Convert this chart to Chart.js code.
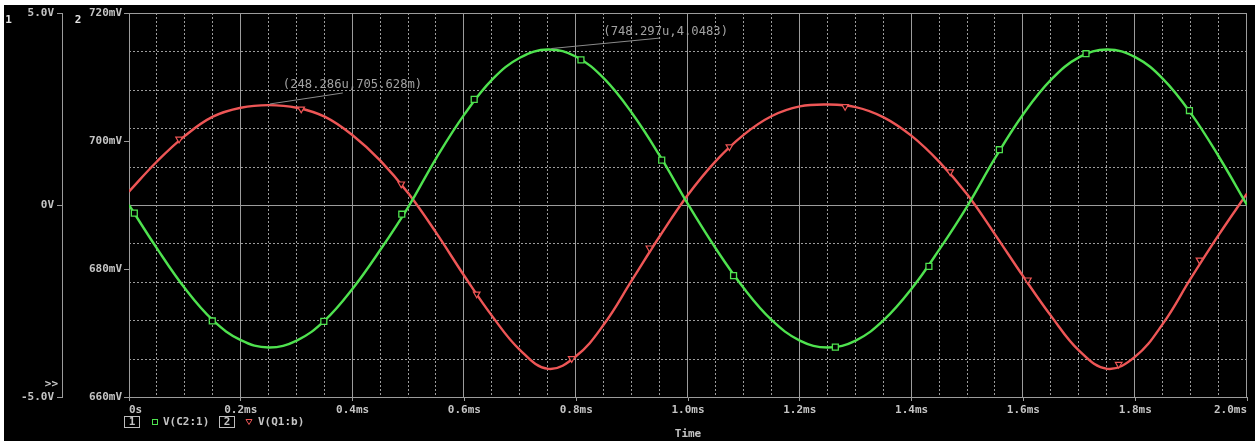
<!DOCTYPE html>
<html>
<head>
<meta charset="utf-8">
<script src="https://cdn.jsdelivr.net/npm/chart.js@4.4.1/dist/chart.umd.min.js"></script>
<style>
    html, body { margin: 0; padding: 0; background: #fff; }
    #wrap { position: absolute; left: 4px; top: 5px; width: 1251px; height: 436px; background: #000; }
    canvas { display: block; }
</style>
</head>
<body>
<div id="wrap"><canvas id="scope" width="1251" height="436"></canvas></div>
<script>
// time base, ms
const timeMs = [
    0.00, 0.05, 0.10, 0.15, 0.20, 0.25, 0.30, 0.35, 0.40, 0.45,
    0.50, 0.55, 0.60, 0.65, 0.70, 0.75, 0.80, 0.85, 0.90, 0.95,
    1.00, 1.05, 1.10, 1.15, 1.20, 1.25, 1.30, 1.35, 1.40, 1.45,
    1.50, 1.55, 1.60, 1.65, 1.70, 1.75, 1.80, 1.85, 1.90, 1.95, 2.00
];

// V(C2:1), volts (axis 1)
const c2Volts = [
    0.00, -1.13, -2.17, -3.00, -3.52, -3.71, -3.53, -3.01, -2.18, -1.16,
    -0.04, 1.23, 2.36, 3.27, 3.84, 4.05, 3.86, 3.29, 2.39, 1.27,
    0.02, -1.14, -2.17, -3.00, -3.53, -3.71, -3.53, -3.00, -2.18, -1.15,
    -0.02, 1.24, 2.37, 3.27, 3.85, 4.05, 3.85, 3.28, 2.38, 1.25, 0.00
];

// V(Q1:b), millivolts (axis 2)
const q1bMillivolts = [
    692.1, 696.8, 700.8, 703.8, 705.2, 705.6, 705.2, 703.8, 700.9, 696.9,
    691.8, 685.6, 678.9, 672.6, 667.3, 664.4, 666.4, 671.4, 678.3, 685.2,
    691.6, 696.9, 701.0, 703.9, 705.4, 705.7, 705.3, 703.7, 700.8, 696.7,
    691.6, 685.3, 678.8, 672.6, 667.2, 664.4, 666.3, 671.5, 678.6, 685.4, 691.8
];

// trace symbols as PSpice places them
const c2MarkT = [0.0095, 0.149, 0.3485, 0.488, 0.6175, 0.8085, 0.953, 1.0815, 1.2636, 1.431, 1.557, 1.712, 1.897];
const c2MarkV = [-0.21, -3.02, -3.03, -0.24, 2.75, 3.78, 1.17, -1.84, -3.70, -1.60, 1.44, 3.94, 2.46];
const q1bMarkT = [0.0896, 0.308, 0.487, 0.622, 0.792, 0.931, 1.074, 1.281, 1.469, 1.608, 1.7705, 1.915];
const q1bMarkV = [700.3, 705.0, 693.3, 676.1, 666.0, 683.3, 699.1, 705.4, 695.2, 678.3, 665.1, 681.4];

// cursor readouts
const cursorQ1b = [0.248286, 705.628];
const cursorC2 = [0.748297, 4.0483];

const seriesNames = ['V(C2:1)', 'V(Q1:b)'];
const axis1Labels = { '5': '5.0V', '0': '0V', '-5': '-5.0V' };

const GREEN = '#4fe24f';
const RED = '#ee5656';
const LINE = '#9c9c9c';
const TEXT = '#c4c4c4';
const MONO = '"DejaVu Sans Mono", "Liberation Mono", monospace';
const TICK_FONT = { family: MONO, size: 11, weight: 'bold' };

const pts = (xs, ys) => xs.map((x, i) => ({ x: x, y: ys[i] }));

const scopeGrid = {
    id: 'scopeGrid',
    beforeDatasetsDraw(chart) {
        const { ctx, chartArea: a, scales } = chart;
        const x = scales.x, y1 = scales.y1;
        ctx.save();
        ctx.lineWidth = 1;
        ctx.strokeStyle = LINE;
        for (let i = 1; i <= 40; i++) {
            const px = Math.round(x.getPixelForValue(i * 0.05)) - 0.5;
            ctx.setLineDash(i % 4 === 0 ? [] : [2, 2]);
            ctx.beginPath();
            ctx.moveTo(px, a.top);
            ctx.lineTo(px, a.bottom);
            ctx.stroke();
        }
        for (let v = -4; v <= 5; v++) {
            const py = Math.round(y1.getPixelForValue(v)) + 0.5;
            ctx.setLineDash(v === 0 || v === 5 ? [] : [2, 2]);
            ctx.beginPath();
            ctx.moveTo(a.left, py);
            ctx.lineTo(a.right, py);
            ctx.stroke();
        }
        ctx.restore();
    },
    afterDraw(chart) {
        const { ctx, chartArea: a, scales } = chart;
        ctx.save();
        ctx.textBaseline = 'middle';

        // axis numbers and overflow mark
        ctx.fillStyle = '#e6e6e6';
        ctx.font = 'bold 11px ' + MONO;
        ctx.textAlign = 'center';
        ctx.fillText('1', 4.5, 15);
        ctx.fillText('2', 74, 15);
        ctx.fillStyle = TEXT;
        ctx.textAlign = 'right';
        ctx.fillText('>>', 54, 379);

        // cursor readouts
        ctx.font = '12.2px ' + MONO;
        ctx.fillStyle = '#a2a2a2';
        ctx.strokeStyle = '#8a8a8a';
        ctx.lineWidth = 1;
        ctx.textAlign = 'left';
        const p1x = scales.x.getPixelForValue(cursorQ1b[0]);
        const p1y = scales.y2.getPixelForValue(cursorQ1b[1]);
        ctx.beginPath();
        ctx.moveTo(p1x + 2, p1y - 1);
        ctx.lineTo(p1x + 75, p1y - 12);
        ctx.stroke();
        ctx.fillText('(' + (cursorQ1b[0] * 1000).toFixed(3) + 'u,' + cursorQ1b[1].toFixed(3) + 'm)', p1x + 15, p1y - 20);

        const p2x = scales.x.getPixelForValue(cursorC2[0]);
        const p2y = scales.y1.getPixelForValue(cursorC2[1]);
        ctx.beginPath();
        ctx.moveTo(p2x + 4, p2y - 1);
        ctx.lineTo(p2x + 113, p2y - 11.5);
        ctx.stroke();
        ctx.fillText('(' + (cursorC2[0] * 1000).toFixed(3) + 'u,' + cursorC2[1].toFixed(4) + ')', p2x + 56, p2y - 18);

        // trace legend
        const ly = 417;
        const lx = a.left - 5;
        ctx.font = 'bold 11px ' + MONO;
        ctx.strokeStyle = '#bdbdbd';
        ctx.fillStyle = TEXT;
        ctx.strokeRect(lx + 0.5, ly - 5.5, 15, 11);
        ctx.textAlign = 'center';
        ctx.fillText('1', lx + 8, ly);
        ctx.strokeStyle = GREEN;
        ctx.strokeRect(lx + 28.5, ly - 2.5, 5, 5);
        ctx.textAlign = 'left';
        ctx.fillText(seriesNames[0], lx + 39, ly);

        ctx.strokeStyle = '#bdbdbd';
        ctx.strokeRect(lx + 95.5, ly - 5.5, 15, 11);
        ctx.textAlign = 'center';
        ctx.fillText('2', lx + 103, ly);
        ctx.strokeStyle = RED;
        ctx.beginPath();
        ctx.moveTo(lx + 122, ly - 2.5);
        ctx.lineTo(lx + 128, ly - 2.5);
        ctx.lineTo(lx + 125, ly + 2.5);
        ctx.closePath();
        ctx.stroke();
        ctx.textAlign = 'left';
        ctx.fillText(seriesNames[1], lx + 134, ly);

        ctx.textAlign = 'center';
        ctx.fillText('Time', (a.left + a.right) / 2, 429);
        ctx.restore();
    }
};

new Chart(document.getElementById('scope').getContext('2d'), {
    type: 'line',
    data: {
        datasets: [
            {
                label: 'c2 marks', data: pts(c2MarkT, c2MarkV), yAxisID: 'y1',
                showLine: false, pointStyle: 'rect', pointRadius: 4.2,
                borderColor: GREEN, backgroundColor: '#000', pointBorderWidth: 1.3
            },
            {
                label: 'q1b marks', data: pts(q1bMarkT, q1bMarkV), yAxisID: 'y2',
                showLine: false, pointStyle: 'triangle', pointRotation: 180, pointRadius: 3.8,
                borderColor: RED, backgroundColor: '#000', pointBorderWidth: 1.2
            },
            {
                label: seriesNames[0], data: pts(timeMs, c2Volts), yAxisID: 'y1',
                borderColor: GREEN, borderWidth: 2.4, pointRadius: 0, tension: 0.4
            },
            {
                label: seriesNames[1], data: pts(timeMs, q1bMillivolts), yAxisID: 'y2',
                borderColor: RED, borderWidth: 2.4, pointRadius: 0, tension: 0.4
            }
        ]
    },
    options: {
        responsive: false,
        animation: false,
        events: [],
        layout: { padding: { left: 0, right: 8, top: 8, bottom: 0 } },
        plugins: { legend: { display: false }, tooltip: { enabled: false } },
        scales: {
            x: {
                type: 'linear', min: 0, max: 2,
                afterFit(s) { s.height = 44; s.paddingLeft = 0; s.paddingRight = 0; },
                border: { color: LINE },
                grid: { drawOnChartArea: false, tickLength: 4, color: LINE },
                ticks: {
                    stepSize: 0.2, autoSkip: false, maxRotation: 0, align: 'inner', padding: 3,
                    color: TEXT, font: TICK_FONT,
                    callback: v => v === 0 ? '0s' : v.toFixed(1) + 'ms'
                }
            },
            y1: {
                type: 'linear', position: 'left', weight: 2, min: -5, max: 5,
                afterFit(s) { s.width = 58; s.paddingTop = 0; s.paddingBottom = 0; },
                border: { color: LINE },
                grid: {
                    drawOnChartArea: false, tickLength: 5,
                    color: c => axis1Labels[c.tick.value] ? LINE : 'rgba(0,0,0,0)'
                },
                ticks: {
                    stepSize: 1, autoSkip: false, padding: 3,
                    color: TEXT, font: TICK_FONT,
                    callback: v => axis1Labels[v] || ''
                }
            },
            y2: {
                type: 'linear', position: 'left', weight: 1, min: 660, max: 720,
                afterFit(s) { s.width = 67; s.paddingTop = 0; s.paddingBottom = 0; },
                border: { color: LINE },
                grid: { drawOnChartArea: false, tickLength: 5, color: LINE },
                ticks: {
                    stepSize: 20, autoSkip: false, padding: 2,
                    color: TEXT, font: TICK_FONT,
                    callback: v => v + 'mV'
                }
            }
        }
    },
    plugins: [scopeGrid]
});
</script>
</body>
</html>
